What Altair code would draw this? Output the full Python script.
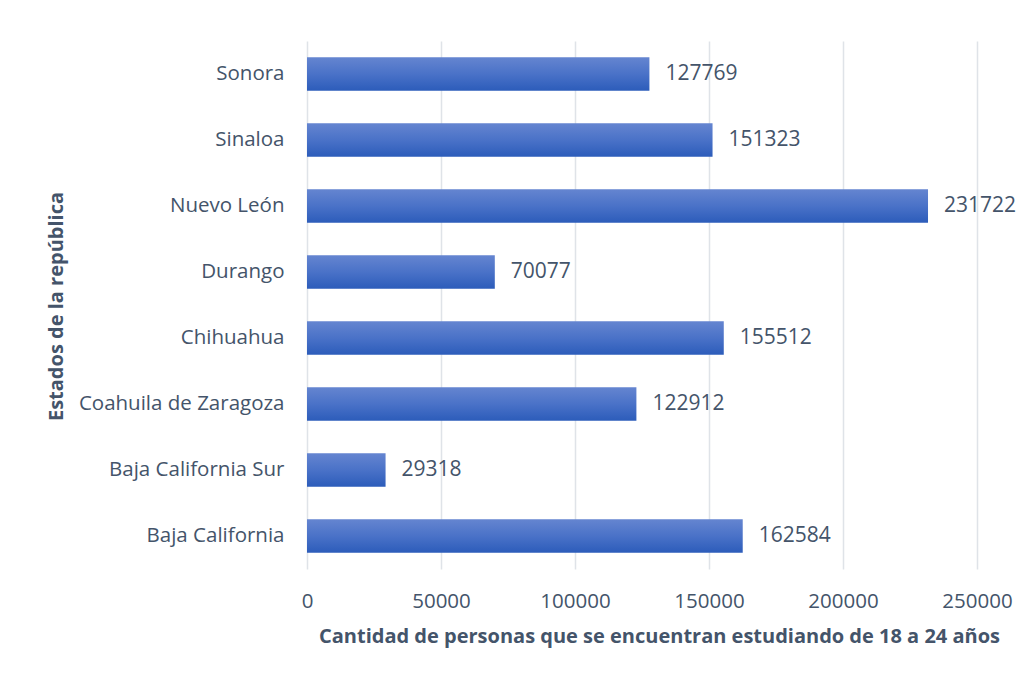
import altair as alt
import pandas as pd

estados = ["Sonora", "Sinaloa", "Nuevo León", "Durango", "Chihuahua",
           "Coahuila de Zaragoza", "Baja California Sur", "Baja California"]
valores = [127769, 151323, 231722, 70077, 155512, 122912, 29318, 162584]
x_ticks = [0, 50000, 100000, 150000, 200000, 250000]

df = pd.DataFrame({"estado": estados, "valor": valores})

TXT = "#44546a"
FONT = "Open Sans"

grad = alt.Gradient(
    gradient="linear",
    stops=[alt.GradientStop(color="#6585d0", offset=0),
           alt.GradientStop(color="#4a72c8", offset=0.5),
           alt.GradientStop(color="#2c5cba", offset=1)],
    x1=0, x2=0, y1=0, y2=1,
)

y_enc = alt.Y(
    "estado:N", sort=estados,
    scale=alt.Scale(paddingInner=0.49, paddingOuter=0.245),
    axis=alt.Axis(title="Estados de la república", domain=False, ticks=False,
                  labelPadding=23, labelFontSize=20.5, labelFont=FONT, labelColor=TXT,
                  labelLimit=300,
                  titleFont=FONT, titleFontSize=20, titleFontWeight="bold",
                  titleColor=TXT, titleX=-241, titleY=265, titleAngle=270,
                  titleBaseline="bottom", titleAlign="center", grid=False),
)
x_enc = alt.X(
    "valor:Q", scale=alt.Scale(domain=[0, 250000], nice=False),
    axis=alt.Axis(title="Cantidad de personas que se encuentran estudiando de 18 a 24 años",
                  values=x_ticks, format="d", domain=False, ticks=False,
                  grid=True, gridColor="#dfe3e8", gridWidth=1.5,
                  labelPadding=22, labelFontSize=20.5, labelFont=FONT, labelColor=TXT,
                  labelFlush=False,
                  titleFont=FONT, titleFontSize=20, titleFontWeight="bold",
                  titleColor=TXT, titlePadding=15, titleX=352),
)

bars = alt.Chart(df).mark_bar(color=grad).encode(x=x_enc, y=y_enc)
labels = alt.Chart(df).mark_text(
    align="left", baseline="middle", dx=16, fontSize=21, font=FONT, color=TXT
).encode(x="valor:Q", y=alt.Y("estado:N", sort=estados), text="valor:Q")

chart = (bars + labels).properties(
    width=670, height=528,
    autosize=alt.AutoSizeParams(type="none"),
    padding={"left": 299, "top": 33, "right": 46, "bottom": 98},
    background="white",
).configure_view(stroke=None)

chart.save("out.html", embed_options={"renderer": "svg", "actions": False})
